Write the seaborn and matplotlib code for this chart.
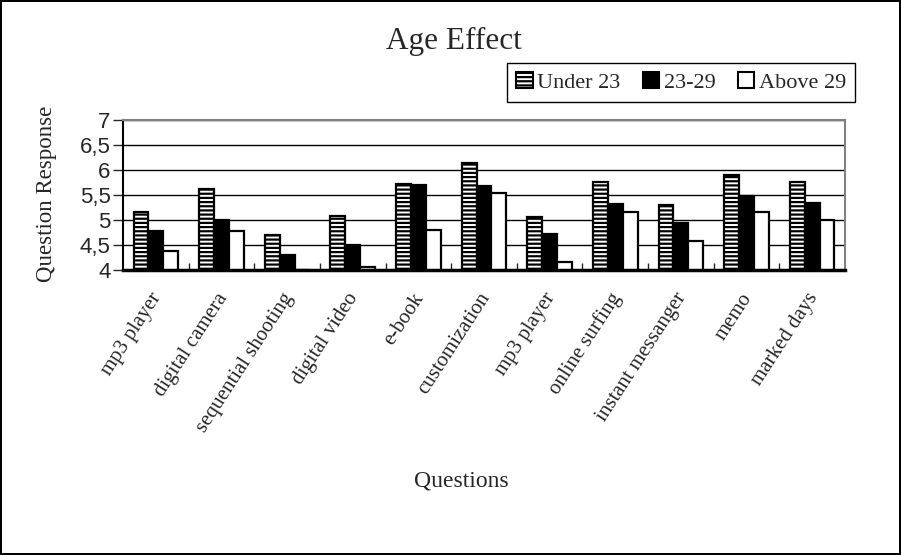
import numpy as np
import pandas as pd
import matplotlib
matplotlib.use("Agg")
import matplotlib.pyplot as plt
import matplotlib.transforms as mtransforms
import seaborn as sns
from matplotlib.ticker import FuncFormatter, FixedLocator

questions = ["mp3 player", "digital camera", "sequential shooting", "digital video",
             "e-book", "customization", "mp3 player", "online surfing",
             "instant messanger", "memo", "marked days"]
groups = ["Under 23", "23-29", "Above 29"]
under_23 = [5.17, 5.63, 4.70, 5.09, 5.73, 6.14, 5.07, 5.77, 5.31, 5.91, 5.77]
age_23_29 = [4.78, 5.00, 4.30, 4.51, 5.71, 5.69, 4.72, 5.33, 4.94, 5.49, 5.34]
above_29 = [4.38, 4.78, 4.00, 4.06, 4.81, 5.55, 4.16, 5.16, 4.59, 5.16, 5.01]

# question index keeps the two "mp3 player" entries apart
df = pd.DataFrame({
    "q": list(range(len(questions))) * 3,
    "group": [g for g in groups for _ in questions],
    "value": under_23 + age_23_29 + above_29,
})

sns.set_style("white")
plt.rcParams["font.family"] = ["Liberation Serif", "DejaVu Serif"]
plt.rcParams["hatch.linewidth"] = 1.6

fig = plt.figure(figsize=(9.01, 5.55), dpi=100)
fig.patch.set_edgecolor("black")
fig.patch.set_linewidth(1.5)
ax = fig.add_axes([123 / 901, 1 - 270 / 555, 722 / 901, 150 / 555])

palette = {"Under 23": "white", "23-29": "black", "Above 29": "white"}
sns.barplot(data=df, x="q", y="value", hue="group", hue_order=groups,
            palette=palette, width=0.68, edgecolor="black", linewidth=1.6,
            gap=0, ax=ax, legend=False)

for bar in ax.containers[0]:
    bar.set_hatch("----")

ax.set_ylim(4, 7)
ax.set_xlim(-0.5, len(questions) - 0.5)
ax.set_yticks(np.arange(4, 7.01, 0.5))
ax.yaxis.set_major_formatter(FuncFormatter(lambda v, p: f"{v:g}".replace(".", ",")))
ax.grid(axis="y", color="black", linewidth=1)
ax.set_axisbelow(True)
for lab in ax.get_yticklabels():
    lab.set_family("Liberation Sans")
    lab.set_fontsize(16)
ax.tick_params(axis="y", direction="out", length=7, width=1, left=True, pad=2)

ax.set_xticks(range(len(questions)))
ax.set_xticklabels(questions, rotation=57, ha="right", rotation_mode="anchor", fontsize=15)
ax.tick_params(axis="x", length=0, pad=14)
shift = mtransforms.ScaledTranslation(-6 / 100, 0, fig.dpi_scale_trans)
for lab in ax.get_xticklabels():
    lab.set_transform(lab.get_transform() + shift)
ax.xaxis.set_minor_locator(FixedLocator(np.arange(0.5, len(questions) - 0.5, 1)))
ax.tick_params(axis="x", which="minor", direction="in", length=5, width=1, bottom=True)

ax.set_xlabel("")
ax.set_ylabel("")
for side in ["top", "right"]:
    ax.spines[side].set_color("#808080")
    ax.spines[side].set_linewidth(1.5)
ax.spines["left"].set_color("black")
ax.spines["left"].set_linewidth(1.5)
ax.spines["bottom"].set_color("black")
ax.spines["bottom"].set_linewidth(2.5)

fig.text(454 / 901, 1 - 41 / 555, "Age Effect", ha="center", va="center", fontsize=22.5)
fig.text(461 / 901, 1 - 481 / 555, "Questions", ha="center", va="center", fontsize=17)
fig.text(47 / 901, 1 - 194 / 555, "Question Response", ha="center", va="center",
         rotation=90, fontsize=16.5)

handles = [plt.Rectangle((0, 0), 1, 1, facecolor=palette[g], edgecolor="black",
                         linewidth=1.5, hatch="----" if g == "Under 23" else None)
           for g in groups]
fig.legend(handles, groups, loc="upper right", bbox_to_anchor=(855 / 901, 1 - 63 / 555),
           ncol=3, frameon=True, fancybox=False, edgecolor="black", framealpha=1,
           fontsize=16, handlelength=0.75, handleheight=0.75, handletextpad=0.2,
           columnspacing=1.0, borderpad=0.4, borderaxespad=0)

fig.savefig("out.png", dpi=100)
